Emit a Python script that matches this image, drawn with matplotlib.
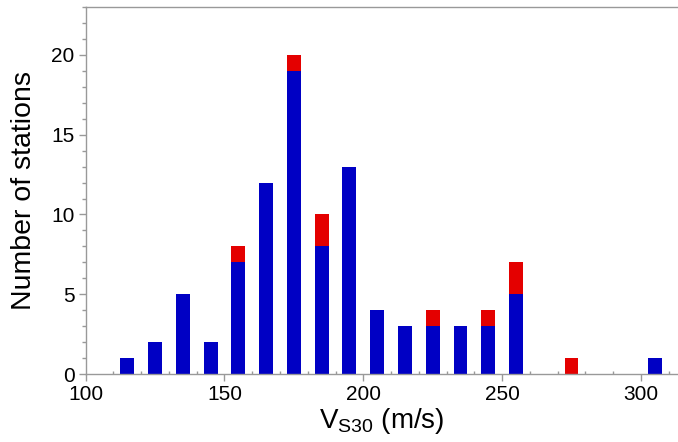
import numpy as np
import matplotlib.pyplot as plt
from matplotlib.ticker import MultipleLocator

plt.rcParams['font.family'] = ['Liberation Sans', 'DejaVu Sans']

# bin centres of Vs30 (m/s)
vs30_bins = [105, 115, 125, 135, 145, 155, 165, 175, 185, 195, 205,
             215, 225, 235, 245, 255, 265, 275, 285, 295, 305]
# lower (blue) part of each bar
blue_counts = [0, 1, 2, 5, 2, 7, 12, 19, 8, 13, 4,
               3, 3, 3, 3, 5, 0, 0, 0, 0, 1]
# upper (red) part stacked on top
red_counts = [0, 0, 0, 0, 0, 1, 0, 1, 2, 0, 0,
              0, 1, 0, 1, 2, 0, 1, 0, 0, 0]

fig = plt.figure(figsize=(6.78, 4.42), dpi=100)
ax = fig.add_axes([0.1264, 0.1538, 0.8721, 0.8302])

ax.bar(vs30_bins, blue_counts, width=5, color='#0000c4', linewidth=0)
ax.bar(vs30_bins, red_counts, width=5, bottom=blue_counts, color='#e40000', linewidth=0)

ax.set_xlim(100, 313)
ax.set_ylim(0, 23)

ax.xaxis.set_major_locator(MultipleLocator(50))
ax.xaxis.set_minor_locator(MultipleLocator(10))
ax.yaxis.set_major_locator(MultipleLocator(5))
ax.yaxis.set_minor_locator(MultipleLocator(1))

for side in ['left', 'bottom', 'top', 'right']:
    ax.spines[side].set_color('#999999')
    ax.spines[side].set_linewidth(1.0)
ax.spines['right'].set_visible(False)

ax.tick_params(axis='both', which='major', direction='out', length=5, width=1,
               color='#999999', labelsize=15, pad=3)
ax.tick_params(axis='x', which='minor', direction='in', length=2, width=1, color='#999999')
ax.tick_params(axis='y', which='minor', direction='out', length=3, width=1, color='#999999')

ax.set_xlabel(r'V$_{\mathregular{S30}}$ (m/s)', fontsize=20, labelpad=1)
ax.set_ylabel('Number of stations', fontsize=20.5, labelpad=10)

fig.savefig('out.png', dpi=100)
